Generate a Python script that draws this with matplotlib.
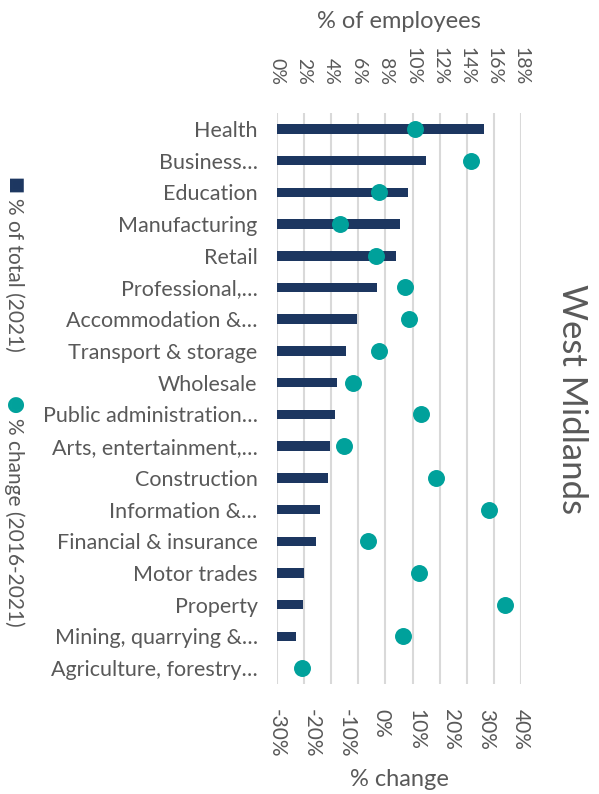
import matplotlib
matplotlib.use("Agg")
from matplotlib import pyplot as plt
from matplotlib.ticker import FuncFormatter, MultipleLocator

# data
sectors = ["Health", "Business\u2026", "Education", "Manufacturing", "Retail",
           "Professional,\u2026", "Accommodation &\u2026", "Transport & storage",
           "Wholesale", "Public administration\u2026", "Arts, entertainment,\u2026",
           "Construction", "Information &\u2026", "Financial & insurance",
           "Motor trades", "Property", "Mining, quarrying &\u2026",
           "Agriculture, forestry\u2026"]
share_2021 = [15.3, 11.0, 9.7, 9.1, 8.8, 7.4, 5.9, 5.1, 4.4, 4.25, 3.9, 3.8,
              3.2, 2.9, 2.0, 1.95, 1.4, 0.0]
change_16_21 = [9.6, 25.8, -0.6, -12.0, -1.7, 6.8, 7.9, -0.6, -8.1, 11.3,
                -10.8, 15.5, 30.8, -3.8, 10.7, 35.4, 6.2, -22.7]
region = "West Midlands"

navy = "#1c3660"
teal = "#00a19b"
grey = "#595959"
plt.rcParams["font.family"] = ["Lato", "DejaVu Sans"]

fig = plt.figure(figsize=(5.99, 7.94), dpi=100)
ax = fig.add_axes([0.4624, 0.1385, 0.4073, 0.7192])
ax2 = ax.twiny()

ypos = list(range(len(sectors)))
ax.barh(ypos, share_2021, height=0.3, color=navy, zorder=2)
ax.set_xlim(0, 18)
ax.set_ylim(len(sectors) - 0.5, -0.5)
ax.xaxis.set_major_locator(MultipleLocator(2))
ax.xaxis.set_major_formatter(FuncFormatter(lambda v, p: f"{v:.0f}%"))
ax.xaxis.tick_top()
ax.xaxis.set_label_position("top")
ax.grid(axis="x", color="#d9d9d9", linewidth=1.5, zorder=0)
ax.set_axisbelow(True)
ax.set_yticks(ypos)
ax.set_yticklabels(sectors, fontsize=15.5, color=grey)
ax.tick_params(axis="y", length=0, pad=14)
ax.tick_params(axis="x", length=0, labelsize=14, labelcolor=grey,
               labelrotation=-90, pad=20)
ax.set_xlabel("% of employees", fontsize=17, color=grey, labelpad=14)

ax2.scatter(change_16_21, ypos, s=125, color=teal, zorder=3)
ax2.set_xlim(-30, 40)
ax2.xaxis.set_major_locator(MultipleLocator(10))
ax2.xaxis.set_major_formatter(FuncFormatter(lambda v, p: f"{v:.0f}%"))
ax2.xaxis.tick_bottom()
ax2.xaxis.set_label_position("bottom")
ax2.tick_params(axis="x", length=0, labelsize=15, labelcolor=grey,
                labelrotation=-90, pad=18)
ax2.set_xlabel("% change", fontsize=17, color=grey, labelpad=8)

for a in (ax, ax2):
    for s in a.spines.values():
        s.set_visible(False)

# legend, drawn vertically on the left
fig.text(0.024, 0.767, "\u25a0", color=navy, rotation=-90, fontsize=13,
         ha="center", va="center", family="DejaVu Sans")
fig.text(0.024, 0.750, "% of total (2021)", color=grey, rotation=-90,
         fontsize=15, ha="center", va="top")
fig.text(0.024, 0.490, "\u25cf", color=teal, rotation=-90, fontsize=15,
         ha="center", va="center", family="DejaVu Sans")
fig.text(0.024, 0.474, "% change (2016-2021)", color=grey, rotation=-90,
         fontsize=15, ha="center", va="top")

fig.text(0.955, 0.497, region, color=grey, rotation=-90, fontsize=25,
         ha="center", va="center")

fig.savefig("out.png", dpi=100)
